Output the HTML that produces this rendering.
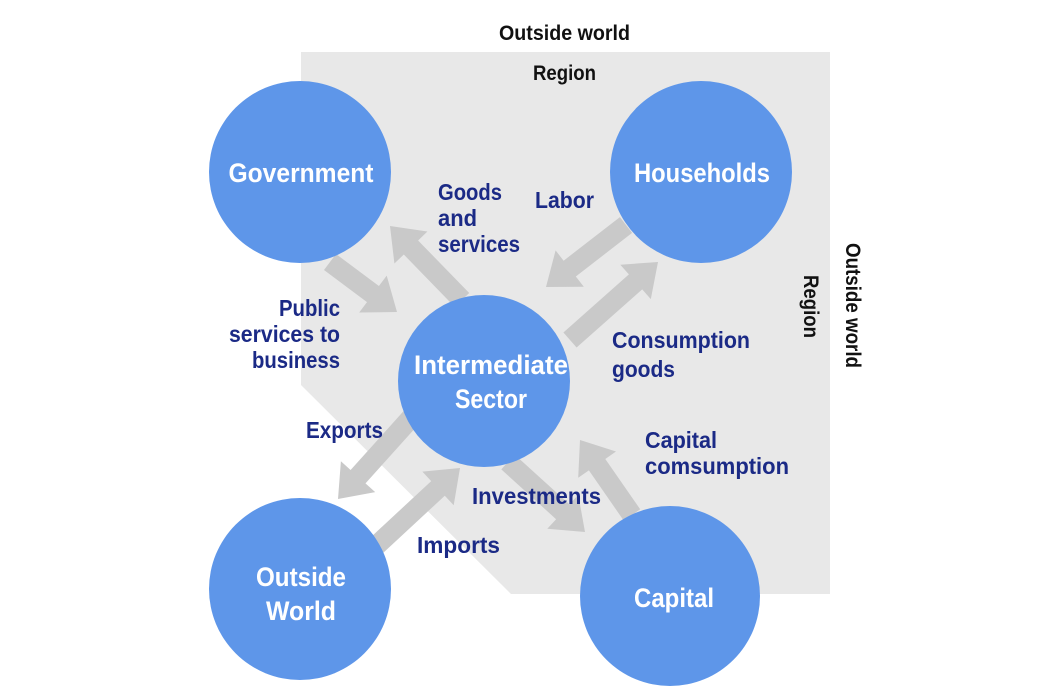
<!DOCTYPE html>
<html><head><meta charset="utf-8"><style>
html,body{margin:0;padding:0;background:#fff;}
svg{display:block;}
text{font-family:"Liberation Sans",sans-serif;font-weight:bold;}
.l{fill:#1b2a86;font-size:23px;}
.c{fill:#fff;font-size:27px;text-anchor:middle;}
.k{fill:#111;font-size:21px;}
</style></head><body>
<svg width="1050" height="700" viewBox="0 0 1050 700" xmlns="http://www.w3.org/2000/svg">
<polygon points="301,52 830,52 830,594 511,594 301,385" fill="#e8e8e8"/>
<g id="arrows" fill="#c9c9c9"></g>
<circle cx="300" cy="172" r="91" fill="#5e96e9"/>
<circle cx="701" cy="172" r="91" fill="#5e96e9"/>
<circle cx="484" cy="381" r="86" fill="#5e96e9"/>
<circle cx="300" cy="589" r="91" fill="#5e96e9"/>
<circle cx="670" cy="596" r="90" fill="#5e96e9"/>
<g lengthAdjust="spacingAndGlyphs">
<text class="c" x="301" y="182" textLength="145" lengthAdjust="spacingAndGlyphs">Government</text>
<text class="c" x="702" y="182" textLength="136" lengthAdjust="spacingAndGlyphs">Households</text>
<text class="c" x="491" y="374" textLength="154" lengthAdjust="spacingAndGlyphs">Intermediate</text>
<text class="c" x="491" y="408" textLength="72" lengthAdjust="spacingAndGlyphs">Sector</text>
<text class="c" x="301" y="586" textLength="90" lengthAdjust="spacingAndGlyphs">Outside</text>
<text class="c" x="301" y="620" textLength="70" lengthAdjust="spacingAndGlyphs">World</text>
<text class="c" x="674" y="607" textLength="80" lengthAdjust="spacingAndGlyphs">Capital</text>
<text class="k" x="499" y="40" textLength="131" lengthAdjust="spacingAndGlyphs">Outside world</text>
<text class="k" x="533" y="80" textLength="63" lengthAdjust="spacingAndGlyphs">Region</text>
<text class="k" transform="translate(846,243) rotate(90)" textLength="125" lengthAdjust="spacingAndGlyphs">Outside world</text>
<text class="k" transform="translate(804,275) rotate(90)" textLength="63" lengthAdjust="spacingAndGlyphs">Region</text>
<text class="l" x="438" y="200" textLength="64" lengthAdjust="spacingAndGlyphs">Goods</text>
<text class="l" x="438" y="226" textLength="39" lengthAdjust="spacingAndGlyphs">and</text>
<text class="l" x="438" y="252" textLength="82" lengthAdjust="spacingAndGlyphs">services</text>
<text class="l" x="535" y="208" textLength="59" lengthAdjust="spacingAndGlyphs">Labor</text>
<text class="l" x="279" y="316" textLength="61" lengthAdjust="spacingAndGlyphs">Public</text>
<text class="l" x="229" y="342" textLength="111" lengthAdjust="spacingAndGlyphs">services to</text>
<text class="l" x="252" y="368" textLength="88" lengthAdjust="spacingAndGlyphs">business</text>
<text class="l" x="612" y="348" textLength="138" lengthAdjust="spacingAndGlyphs">Consumption</text>
<text class="l" x="612" y="377" textLength="63" lengthAdjust="spacingAndGlyphs">goods</text>
<text class="l" x="306" y="438" textLength="77" lengthAdjust="spacingAndGlyphs">Exports</text>
<text class="l" x="645" y="448" textLength="72" lengthAdjust="spacingAndGlyphs">Capital</text>
<text class="l" x="645" y="474" textLength="144" lengthAdjust="spacingAndGlyphs">comsumption</text>
<text class="l" x="472" y="504" textLength="129" lengthAdjust="spacingAndGlyphs">Investments</text>
<text class="l" x="417" y="553" textLength="83" lengthAdjust="spacingAndGlyphs">Imports</text>
</g>
</svg>
<script>
var arrows=[[330,262,397,312],[462,300,390,226],[626,225,546,287],[570,340,658,262],[418,410,338,499],[376,546,460,468],[508,462,585,532],[632,515,580,440]];
var g=document.getElementById('arrows');
arrows.forEach(function(a){
 var x1=a[0],y1=a[1],x2=a[2],y2=a[3];
 var dx=x2-x1,dy=y2-y1,L=Math.sqrt(dx*dx+dy*dy),ux=dx/L,uy=dy/L,px=-uy,py=ux;
 var w=10,hw=23,hl=30;
 var bx=x2-ux*hl,by=y2-uy*hl;
 var pts=[[x1+px*w,y1+py*w],[bx+px*w,by+py*w],[bx+px*hw,by+py*hw],[x2,y2],[bx-px*hw,by-py*hw],[bx-px*w,by-py*w],[x1-px*w,y1-py*w]];
 var p=document.createElementNS('http://www.w3.org/2000/svg','polygon');
 p.setAttribute('points',pts.map(function(q){return q[0].toFixed(1)+','+q[1].toFixed(1)}).join(' '));
 g.appendChild(p);
});
</script>
</body></html>
